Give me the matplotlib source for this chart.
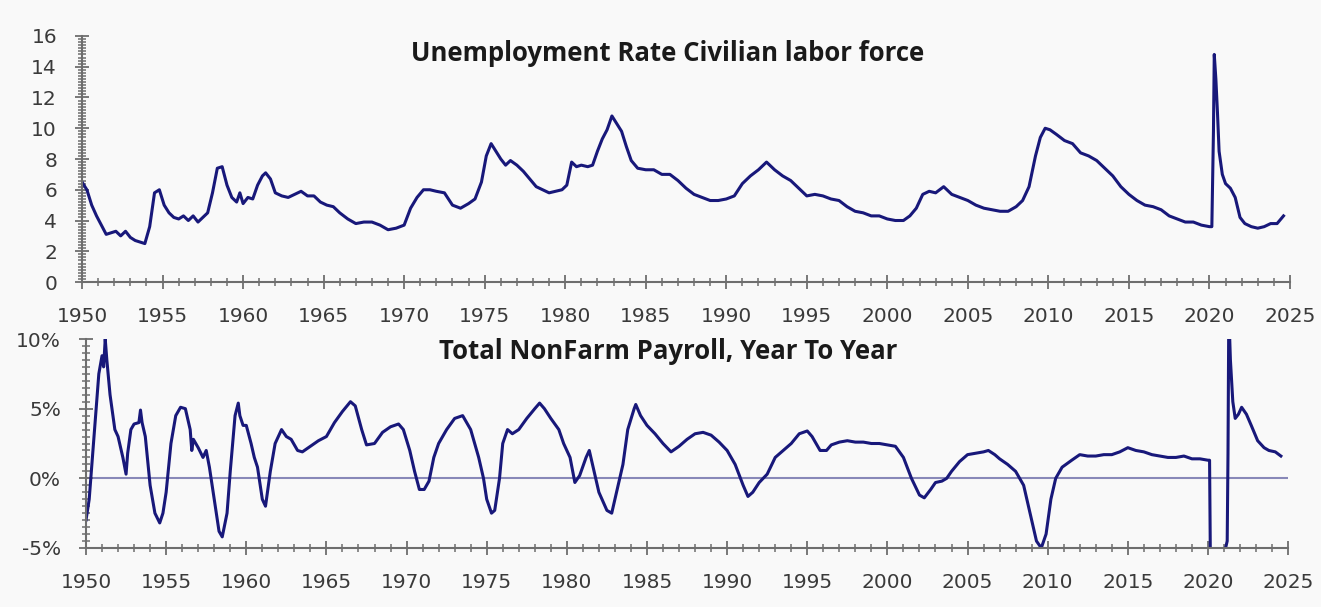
import matplotlib
matplotlib.use('Agg')
import matplotlib.pyplot as plt
from matplotlib.ticker import MultipleLocator, FuncFormatter

# unemployment rate (year, %)
unemp_year = [1950.0, 1950.3, 1950.6, 1950.9, 1951.2, 1951.5, 1951.8, 1952.1, 1952.4, 1952.7,
              1953.0, 1953.3, 1953.6, 1953.9, 1954.2, 1954.5, 1954.8, 1955.1, 1955.4, 1955.7,
              1956.0, 1956.3, 1956.6, 1956.9, 1957.2, 1957.5, 1957.8, 1958.1, 1958.4, 1958.7,
              1959.0, 1959.3, 1959.6, 1959.8, 1960.0, 1960.3, 1960.6, 1960.9, 1961.2, 1961.4,
              1961.7, 1962.0, 1962.4, 1962.8, 1963.2, 1963.6, 1964.0, 1964.4, 1964.8, 1965.2,
              1965.6, 1966.0, 1966.5, 1967.0, 1967.5, 1968.0, 1968.5, 1969.0, 1969.5, 1970.0,
              1970.4, 1970.8, 1971.2, 1971.6, 1972.0, 1972.5, 1973.0, 1973.5, 1974.0, 1974.4,
              1974.8, 1975.1, 1975.4, 1975.7, 1976.0, 1976.3, 1976.6, 1977.0, 1977.4, 1977.8,
              1978.2, 1978.6, 1979.0, 1979.4, 1979.8, 1980.1, 1980.4, 1980.7, 1981.0, 1981.4,
              1981.7, 1982.0, 1982.3, 1982.6, 1982.9, 1983.2, 1983.5, 1983.8, 1984.1, 1984.5,
              1985.0, 1985.5, 1986.0, 1986.5, 1987.0, 1987.5, 1988.0, 1988.5, 1989.0, 1989.5,
              1990.0, 1990.5, 1991.0, 1991.5, 1992.0, 1992.5, 1993.0, 1993.5, 1994.0, 1994.5,
              1995.0, 1995.5, 1996.0, 1996.5, 1997.0, 1997.5, 1998.0, 1998.5, 1999.0, 1999.5,
              2000.0, 2000.5, 2001.0, 2001.4, 2001.8, 2002.2, 2002.6, 2003.0, 2003.5, 2004.0,
              2004.5, 2005.0, 2005.5, 2006.0, 2006.5, 2007.0, 2007.5, 2008.0, 2008.4, 2008.8,
              2009.2, 2009.5, 2009.8, 2010.1, 2010.5, 2011.0, 2011.5, 2012.0, 2012.5, 2013.0,
              2013.5, 2014.0, 2014.5, 2015.0, 2015.5, 2016.0, 2016.5, 2017.0, 2017.5, 2018.0,
              2018.5, 2019.0, 2019.5, 2020.0, 2020.15, 2020.25, 2020.3, 2020.4, 2020.5, 2020.6,
              2020.8, 2021.0, 2021.3, 2021.6, 2021.9, 2022.2, 2022.6, 2023.0, 2023.4, 2023.8,
              2024.2, 2024.6]
unemp_rate = [6.5, 6.0, 5.0, 4.3, 3.7, 3.1, 3.2, 3.3, 3.0, 3.3,
              2.9, 2.7, 2.6, 2.5, 3.6, 5.8, 6.0, 5.0, 4.5, 4.2,
              4.1, 4.3, 4.0, 4.3, 3.9, 4.2, 4.5, 5.8, 7.4, 7.5,
              6.3, 5.5, 5.2, 5.8, 5.1, 5.5, 5.4, 6.3, 6.9, 7.1,
              6.7, 5.8, 5.6, 5.5, 5.7, 5.9, 5.6, 5.6, 5.2, 5.0,
              4.9, 4.5, 4.1, 3.8, 3.9, 3.9, 3.7, 3.4, 3.5, 3.7,
              4.8, 5.5, 6.0, 6.0, 5.9, 5.8, 5.0, 4.8, 5.1, 5.4,
              6.5, 8.2, 9.0, 8.5, 8.0, 7.6, 7.9, 7.6, 7.2, 6.7,
              6.2, 6.0, 5.8, 5.9, 6.0, 6.3, 7.8, 7.5, 7.6, 7.5,
              7.6, 8.5, 9.3, 9.9, 10.8, 10.3, 9.8, 8.8, 7.9, 7.4,
              7.3, 7.3, 7.0, 7.0, 6.6, 6.1, 5.7, 5.5, 5.3, 5.3,
              5.4, 5.6, 6.4, 6.9, 7.3, 7.8, 7.3, 6.9, 6.6, 6.1,
              5.6, 5.7, 5.6, 5.4, 5.3, 4.9, 4.6, 4.5, 4.3, 4.3,
              4.1, 4.0, 4.0, 4.3, 4.8, 5.7, 5.9, 5.8, 6.2, 5.7,
              5.5, 5.3, 5.0, 4.8, 4.7, 4.6, 4.6, 4.9, 5.3, 6.2,
              8.2, 9.4, 10.0, 9.9, 9.6, 9.2, 9.0, 8.4, 8.2, 7.9,
              7.4, 6.9, 6.2, 5.7, 5.3, 5.0, 4.9, 4.7, 4.3, 4.1,
              3.9, 3.9, 3.7, 3.6, 3.6, 9.8, 14.8, 13.2, 11.0, 8.5,
              7.0, 6.4, 6.1, 5.5, 4.2, 3.8, 3.6, 3.5, 3.6, 3.8,
              3.8, 4.3]

# total nonfarm payroll, year over year change (year, %)
nfp_year = [1950.0, 1950.2, 1950.5, 1950.8, 1951.0, 1951.1, 1951.2, 1951.3, 1951.5, 1951.8,
            1952.0, 1952.3, 1952.5, 1952.6, 1952.8, 1953.0, 1953.3, 1953.4, 1953.5, 1953.7,
            1954.0, 1954.3, 1954.6, 1954.8, 1955.0, 1955.3, 1955.6, 1955.9, 1956.2, 1956.5,
            1956.6, 1956.7, 1957.0, 1957.3, 1957.5, 1957.7, 1958.0, 1958.3, 1958.5, 1958.8,
            1959.0, 1959.3, 1959.5, 1959.6, 1959.8, 1960.0, 1960.3, 1960.5, 1960.7, 1961.0,
            1961.2, 1961.5, 1961.8, 1962.2, 1962.5, 1962.8, 1963.2, 1963.5, 1964.0, 1964.5,
            1965.0, 1965.5, 1966.0, 1966.5, 1966.8, 1967.2, 1967.5, 1968.0, 1968.5, 1969.0,
            1969.5, 1969.8, 1970.2, 1970.5, 1970.8, 1971.1, 1971.4, 1971.7, 1972.0, 1972.5,
            1973.0, 1973.5, 1974.0, 1974.5, 1974.8, 1975.0, 1975.3, 1975.5, 1975.8, 1976.0,
            1976.3, 1976.6, 1977.0, 1977.5, 1978.0, 1978.3, 1978.6, 1979.0, 1979.5, 1979.8,
            1980.2, 1980.5, 1980.8, 1981.2, 1981.4, 1981.7, 1982.0, 1982.5, 1982.8, 1983.0,
            1983.5, 1983.8, 1984.2, 1984.3, 1984.6, 1985.0, 1985.5, 1986.0, 1986.5, 1987.0,
            1987.5, 1988.0, 1988.5, 1989.0, 1989.5, 1990.0, 1990.5, 1991.0, 1991.3, 1991.6,
            1992.0, 1992.5, 1993.0, 1993.5, 1994.0, 1994.5, 1995.0, 1995.3, 1995.8, 1996.2,
            1996.5, 1997.0, 1997.5, 1998.0, 1998.5, 1999.0, 1999.5, 2000.0, 2000.5, 2001.0,
            2001.5, 2002.0, 2002.3, 2002.7, 2003.0, 2003.4, 2003.7, 2004.0, 2004.5, 2005.0,
            2005.5, 2006.0, 2006.3, 2006.7, 2007.0, 2007.5, 2008.0, 2008.5, 2008.9, 2009.3,
            2009.6, 2009.9, 2010.2, 2010.5, 2010.9, 2011.5, 2012.0, 2012.5, 2013.0, 2013.5,
            2014.0, 2014.5, 2015.0, 2015.5, 2016.0, 2016.5, 2017.0, 2017.5, 2018.0, 2018.5,
            2019.0, 2019.5, 2020.0, 2020.1, 2020.2, 2020.5, 2020.9, 2021.2, 2021.25, 2021.3,
            2021.4, 2021.55, 2021.7, 2021.9, 2022.1, 2022.4, 2022.7, 2023.1, 2023.5, 2023.8,
            2024.2, 2024.55]
nfp_yoy = [-3.0, -1.5, 3.0, 7.5, 8.8, 8.0, 10.0, 8.5, 6.0, 3.5,
           3.0, 1.5, 0.3, 1.8, 3.5, 3.9, 4.0, 4.9, 4.0, 3.0,
           -0.5, -2.5, -3.2, -2.5, -1.0, 2.5, 4.5, 5.1, 5.0, 3.5,
           2.0, 2.8, 2.2, 1.5, 2.0, 0.8, -1.5, -3.8, -4.2, -2.5,
           0.5, 4.5, 5.4, 4.5, 3.8, 3.8, 2.5, 1.5, 0.8, -1.5,
           -2.0, 0.5, 2.5, 3.5, 3.0, 2.8, 2.0, 1.9, 2.3, 2.7,
           3.0, 4.0, 4.8, 5.5, 5.2, 3.5, 2.4, 2.5, 3.3, 3.7,
           3.9, 3.5, 2.0, 0.5, -0.8, -0.8, -0.2, 1.5, 2.5, 3.5,
           4.3, 4.5, 3.5, 1.5, 0.0, -1.5, -2.5, -2.3, 0.0, 2.5,
           3.5, 3.2, 3.5, 4.3, 5.0, 5.4, 5.0, 4.3, 3.5, 2.5,
           1.5, -0.3, 0.2, 1.5, 2.0, 0.5, -1.0, -2.3, -2.5, -1.5,
           1.0, 3.5, 5.0, 5.3, 4.5, 3.8, 3.2, 2.5, 1.9, 2.3,
           2.8, 3.2, 3.3, 3.1, 2.6, 2.0, 1.0, -0.5, -1.3, -1.0,
           -0.3, 0.3, 1.5, 2.0, 2.5, 3.2, 3.4, 3.0, 2.0, 2.0,
           2.4, 2.6, 2.7, 2.6, 2.6, 2.5, 2.5, 2.4, 2.3, 1.5,
           0.0, -1.2, -1.4, -0.8, -0.3, -0.2, 0.0, 0.5, 1.2, 1.7,
           1.8, 1.9, 2.0, 1.7, 1.4, 1.0, 0.5, -0.5, -2.5, -4.5,
           -5.0, -4.0, -1.5, 0.0, 0.8, 1.3, 1.7, 1.6, 1.6, 1.7,
           1.7, 1.9, 2.2, 2.0, 1.9, 1.7, 1.6, 1.5, 1.5, 1.6,
           1.4, 1.4, 1.3, 1.3, -13.0, -7.5, -6.0, -4.5, 1.8, 12.0,
           8.5, 5.5, 4.3, 4.6, 5.1, 4.6, 3.8, 2.7, 2.2, 2.0,
           1.9, 1.6]

x_ticks = list(range(1950, 2026, 5))

line_col = '#18187a'
axis_col = '#6e6e6e'
bg = '#f9f9f9'
plt.rcParams['font.family'] = ['DejaVu Sans']

fig = plt.figure(figsize=(13.21, 6.07), dpi=100, facecolor=bg)
ax1 = fig.add_axes([0.0621, 0.5354, 0.9144, 0.4053])
ax2 = fig.add_axes([0.0651, 0.0972, 0.9100, 0.3443])


def style(ax):
    ax.set_facecolor(bg)
    for s in ['top', 'right']:
        ax.spines[s].set_visible(False)
    for s in ['left', 'bottom']:
        ax.spines[s].set_color(axis_col)
        ax.spines[s].set_linewidth(1.5)
    ax.set_xlim(1950, 2025)
    ax.set_xticks(x_ticks)
    ax.xaxis.set_minor_locator(MultipleLocator(1))
    ax.tick_params(which='major', direction='inout', length=10, width=1.3,
                   color=axis_col, labelsize=14.5, labelcolor='#3a3a3a')
    ax.tick_params(which='minor', direction='inout', length=6, width=1.1, color=axis_col)
    ax.tick_params(axis='x', which='major', pad=13)
    ax.tick_params(axis='y', which='major', pad=13)


# top: unemployment
style(ax1)
ax1.plot(unemp_year, unemp_rate, color=line_col, lw=2.2)
ax1.set_ylim(0, 16)
ax1.yaxis.set_major_locator(MultipleLocator(2))
ax1.yaxis.set_minor_locator(MultipleLocator(0.2))
ax1.text(0.485, 0.93, 'Unemployment Rate Civilian labor force', transform=ax1.transAxes,
         ha='center', va='center', fontsize=18.5, fontweight='bold', family='Open Sans',
         fontstretch='normal', color='#1a1a1a')

# bottom: payroll yoy
style(ax2)
ax2.axhline(0, color='#8888b8', lw=1.5, zorder=1)
ax2.plot(nfp_year, nfp_yoy, color=line_col, lw=2.2, zorder=2)
ax2.set_ylim(-5, 10)
ax2.yaxis.set_major_locator(MultipleLocator(5))
ax2.yaxis.set_minor_locator(MultipleLocator(0.5))
ax2.yaxis.set_major_formatter(FuncFormatter(lambda v, p: '%d%%' % v))
ax2.text(0.484, 0.94, 'Total NonFarm Payroll, Year To Year', transform=ax2.transAxes,
         ha='center', va='center', fontsize=18.5, fontweight='bold', family='Open Sans',
         fontstretch='normal', color='#1a1a1a')

fig.savefig('out.png', dpi=100, facecolor=bg)
